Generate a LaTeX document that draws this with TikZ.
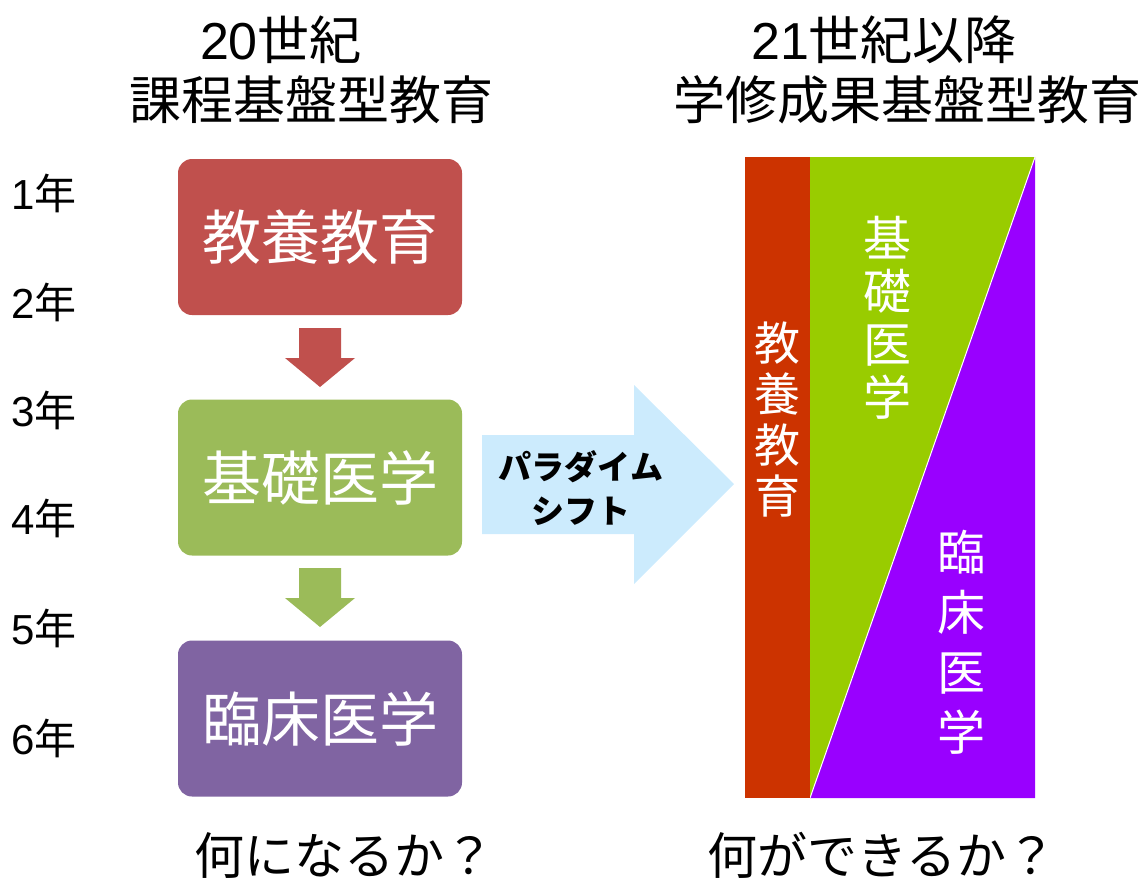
\documentclass[tikz,border=0pt]{standalone}
\usepackage{fontspec}
\setmainfont{Noto Sans CJK JP}
\newfontfamily\lat{Liberation Sans}
\begin{document}
\begin{tikzpicture}[x=1pt,y=-1pt,
  stage/.style={rounded corners=14pt, inner sep=0pt, minimum width=284pt, minimum height=156pt, text=white, font=\fontsize{59}{59}\selectfont},
  yr/.style={font=\fontsize{42}{42}\selectfont, anchor=west},
  ttl/.style={font=\fontsize{52}{52}\selectfont},
  btm/.style={font=\fontsize{50}{50}\selectfont},
  vtext/.style={text=white, align=center, inner sep=0pt}
]
\definecolor{cRed}{HTML}{C0504D}
\definecolor{cGreen}{HTML}{9BBB59}
\definecolor{cPurple}{HTML}{8064A2}
\definecolor{cBlue}{HTML}{CCEBFD}
\definecolor{rRed}{HTML}{CC3300}
\definecolor{rGreen}{HTML}{99CC00}
\definecolor{rPurple}{HTML}{9900FF}
\useasboundingbox (0,0) rectangle (1147,879);

% titles
\node[ttl] (t1) at (281,40) {{\lat 20}世紀};
\node[ttl] (t2) at (311,100) {課程基盤型教育};
\node[ttl] (t3) at (884,40) {{\lat 21}世紀以降};
\node[ttl] (t4) at (907,100) {学修成果基盤型教育};

% years
\node[yr] (y1) at (8,193) {{\lat 1}年};
\node[yr] (y2) at (8,302) {{\lat 2}年};
\node[yr] (y3) at (8,410) {{\lat 3}年};
\node[yr] (y4) at (8,518) {{\lat 4}年};
\node[yr] (y5) at (8,628) {{\lat 5}年};
\node[yr] (y6) at (8,738) {{\lat 6}年};

% left stages
\node[stage, fill=cRed] (s1) at (320,237) {教養教育};
\node[stage, fill=cGreen] (s2) at (320,477.5) {基礎医学};
\node[stage, fill=cPurple] (s3) at (320,718.5) {臨床医学};

% small down arrows
\fill[cRed] (299,328) -- (341,328) -- (341,358) -- (355,358) -- (320,387) -- (285,358) -- (299,358) -- cycle;
\fill[cGreen] (299,568) -- (341,568) -- (341,598) -- (355,598) -- (320,627) -- (285,598) -- (299,598) -- cycle;

% paradigm shift arrow
\fill[cBlue] (482,435) -- (634,435) -- (634,385) -- (734,484) -- (634,584) -- (634,534) -- (482,534) -- cycle;
\node[font=\bfseries\fontsize{33}{44}\selectfont, align=center, inner sep=0pt] (ps) at (581,488) {パラダイム\\シフト};

% right column
\coordinate (rtl) at (745,157);
\coordinate (rtr) at (1035,157);
\coordinate (rbl) at (745,798);
\coordinate (rbr) at (1035,798);
\fill[rGreen] (810,157) -- (rtr) -- (810,798) -- cycle;
\fill[rPurple] (rtr) -- (rbr) -- (810,798) -- cycle;
\draw[white, line width=1pt] (rtr) -- (810,798);
\fill[rRed] (rtl) rectangle (810,798);

\node[vtext, font=\fontsize{46}{51}\selectfont] (v1) at (777,420) {教\\養\\教\\育};
\node[vtext, font=\fontsize{48}{53}\selectfont] (v2) at (887,318) {基\\礎\\医\\学};
\node[vtext, font=\fontsize{48}{60}\selectfont] (v3) at (961,642) {臨\\床\\医\\学};

% bottom
\node[btm] (b1) at (344,855) {何になるか？};
\node[btm] (b2) at (882,855) {何ができるか？};
\end{tikzpicture}
\end{document}
